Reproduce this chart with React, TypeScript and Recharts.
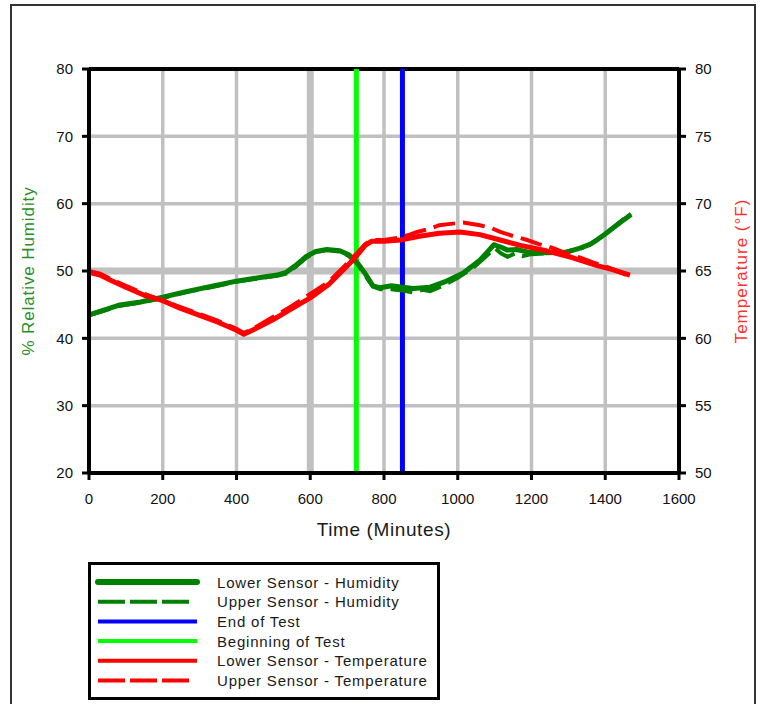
import React from 'react';
import { LineChart, Line, XAxis, YAxis, CartesianGrid, ReferenceLine } from 'recharts';

const FONT = '"Liberation Sans", Arial, Helvetica, sans-serif';

// Axis ticks
const timeTicks = [0, 200, 400, 600, 800, 1000, 1200, 1400, 1600];
const humidityTicks = [20, 30, 40, 50, 60, 70, 80];
const temperatureTicks = [50, 55, 60, 65, 70, 75, 80];

// Series: [time (minutes), value]
const lowerHumidity: [number, number][] = [
  [0, 43.5], [40, 44.2], [80, 44.9], [140, 45.4], [200, 46.1], [260, 46.9], [340, 47.8],
  [400, 48.5], [460, 49.0], [510, 49.4], [535, 49.8], [560, 50.8], [590, 52.2], [615, 52.9],
  [645, 53.2], [680, 53.0], [705, 52.4], [725, 51.4], [748, 49.7], [770, 47.8], [790, 47.5],
  [820, 47.8], [850, 47.6], [880, 47.4], [925, 47.6], [970, 48.5], [1015, 49.7], [1060, 51.6],
  [1080, 52.8], [1098, 53.9], [1115, 53.6], [1135, 53.1], [1160, 53.2], [1190, 52.8],
  [1240, 52.7], [1295, 52.8], [1332, 53.4], [1360, 54.0], [1380, 54.7], [1400, 55.5],
  [1421, 56.4], [1445, 57.4], [1470, 58.4],
];
const upperHumidity: [number, number][] = [
  [0, 43.4], [40, 44.1], [80, 44.8], [140, 45.3], [200, 46.0], [260, 46.8], [340, 47.7],
  [400, 48.4], [460, 48.9], [510, 49.3], [535, 49.6], [560, 50.6], [590, 52.0], [615, 52.8],
  [645, 53.1], [680, 52.9], [705, 52.2], [725, 51.2], [748, 49.4], [770, 47.7], [790, 47.3],
  [820, 47.3], [850, 47.1], [880, 46.8], [905, 47.2], [925, 47.0], [960, 47.8], [1000, 49.0],
  [1040, 50.4], [1065, 51.6], [1085, 52.6], [1100, 53.4], [1118, 52.6], [1135, 52.1],
  [1155, 52.6], [1175, 52.2], [1200, 52.5], [1240, 52.6], [1295, 52.9], [1332, 53.3],
  [1360, 54.0], [1390, 55.1], [1421, 56.4], [1445, 57.5], [1470, 58.5],
];
const lowerTemperature: [number, number][] = [
  [0, 64.9], [30, 64.7], [60, 64.3], [100, 63.8], [150, 63.2], [200, 62.8], [250, 62.2],
  [300, 61.7], [350, 61.2], [400, 60.6], [420, 60.3], [450, 60.7], [500, 61.4], [550, 62.2],
  [600, 63.0], [650, 64.0], [694, 65.2], [722, 66.0], [749, 66.9], [766, 67.2], [800, 67.2],
  [844, 67.3], [900, 67.6], [950, 67.8], [1006, 67.9], [1060, 67.7], [1115, 67.3],
  [1170, 66.9], [1240, 66.5], [1310, 66.0], [1378, 65.4], [1420, 65.1], [1467, 64.7],
];
const upperTemperature: [number, number][] = [
  [0, 65.0], [30, 64.8], [60, 64.4], [100, 63.9], [150, 63.3], [200, 62.8], [250, 62.3],
  [300, 61.8], [350, 61.3], [400, 60.7], [420, 60.4], [450, 60.8], [500, 61.6], [550, 62.4],
  [600, 63.3], [650, 64.2], [694, 65.4], [722, 66.2], [749, 67.0], [766, 67.3], [800, 67.3],
  [844, 67.5], [870, 67.7], [890, 67.9], [920, 68.1], [950, 68.4], [980, 68.5], [1015, 68.6],
  [1060, 68.4], [1090, 68.2], [1115, 67.9], [1150, 67.6], [1188, 67.3], [1220, 67.0],
  [1259, 66.7], [1295, 66.3], [1332, 66.0], [1370, 65.6], [1405, 65.3], [1440, 64.9],
  [1467, 64.6],
];
const beginningOfTest: [number, number][] = [[725, 20], [725, 80]];
const endOfTest: [number, number][] = [[850, 20], [850, 80]];

const legendItems = [
  { label: 'Lower Sensor - Humidity', color: '#008000', width: 6, dash: undefined },
  { label: 'Upper Sensor - Humidity', color: '#008000', width: 4, dash: '27 5' },
  { label: 'End of Test', color: '#0000ff', width: 4, dash: undefined },
  { label: 'Beginning of Test', color: '#00ff00', width: 4, dash: undefined },
  { label: 'Lower Sensor - Temperature', color: '#ff0000', width: 4, dash: undefined },
  { label: 'Upper Sensor - Temperature', color: '#ff0000', width: 4, dash: '27 5' },
];

const rows = (pairs: [number, number][]) => pairs.map(([t, v]) => ({ t, v }));

const GRID = '#c0c0c0';
const gridLine = (thickIndex: number) => (props: any) => {
  const { x1, y1, x2, y2, index, key } = props;
  return (
    <line
      key={key}
      x1={x1}
      y1={y1}
      x2={x2}
      y2={y2}
      stroke={GRID}
      strokeWidth={index === thickIndex ? 7 : 3.5}
    />
  );
};

const LeftLabel = (props: any) => {
  const vb = props.viewBox || {};
  const x = vb.x - 11;
  const y = vb.y + vb.height / 2;
  return (
    <text
      x={x}
      y={y}
      transform={`rotate(-90 ${x} ${y})`}
      textAnchor="middle"
      dominantBaseline="central"
      fill="#2a8f2a"
      fontSize={17}
      fontFamily={FONT}
      style={{ letterSpacing: '0.9px' }}
    >
      % Relative Humidity
    </text>
  );
};

const RightLabel = (props: any) => {
  const vb = props.viewBox || {};
  const x = vb.x + 62;
  const y = vb.y + vb.height / 2;
  return (
    <text
      x={x}
      y={y}
      transform={`rotate(-90 ${x} ${y})`}
      textAnchor="middle"
      dominantBaseline="central"
      fill="#ff3030"
      fontSize={17}
      fontFamily={FONT}
      style={{ letterSpacing: '1px' }}
    >
      Temperature (°F)
    </text>
  );
};

const tickStyle = { fill: '#111', fontSize: 15, fontFamily: FONT };
const axisLineStyle = { stroke: '#000', strokeWidth: 4 };
const tickLineStyle = { stroke: '#000', strokeWidth: 3 };

export default function App() {
  return (
    <div
      style={{
        position: 'absolute',
        left: 0,
        top: 0,
        width: 762,
        height: 704,
        overflow: 'hidden',
        background: '#fff',
        fontFamily: FONT,
      }}
    >
      <div
        style={{
          position: 'absolute',
          left: 10,
          top: 4,
          width: 746,
          height: 740,
          border: '2px solid #333',
          boxSizing: 'border-box',
        }}
      />
      <div style={{ position: 'absolute', left: 0, top: 0 }}>
        <LineChart width={762} height={704} margin={{ top: 69, right: 33, bottom: 201, left: 39 }}>
          <CartesianGrid
            yAxisId="rh"
            stroke={GRID}
            strokeWidth={3.5}
            horizontal={gridLine(3)}
            vertical={gridLine(3)}
          />
          <XAxis
            type="number"
            dataKey="t"
            domain={[0, 1600]}
            ticks={timeTicks}
            interval={0}
            height={30}
            tickSize={7}
            tickMargin={13}
            axisLine={axisLineStyle}
            tickLine={tickLineStyle}
            tick={tickStyle}
            label={{
              value: 'Time (Minutes)',
              position: 'bottom',
              offset: 20,
              fill: '#1a1a1a',
              fontSize: 19,
              fontFamily: FONT,
              letterSpacing: 0.6,
            }}
          />
          <YAxis
            yAxisId="rh"
            orientation="left"
            type="number"
            domain={[20, 80]}
            ticks={humidityTicks}
            interval={0}
            width={50}
            tickSize={7}
            tickMargin={9}
            axisLine={axisLineStyle}
            tickLine={tickLineStyle}
            tick={tickStyle}
            label={<LeftLabel />}
          />
          <YAxis
            yAxisId="temp"
            orientation="right"
            type="number"
            domain={[50, 80]}
            ticks={temperatureTicks}
            interval={0}
            width={50}
            tickSize={7}
            tickMargin={9}
            axisLine={axisLineStyle}
            tickLine={tickLineStyle}
            tick={tickStyle}
            label={<RightLabel />}
          />
          <ReferenceLine yAxisId="rh" y={80} stroke="#000" strokeWidth={4} />
          <Line
            data={rows(endOfTest)}
            dataKey="v"
            yAxisId="rh"
            stroke="#0000ff"
            strokeWidth={5}
            dot={false}
            activeDot={false}
            isAnimationActive={false}
          />
          <Line
            data={rows(beginningOfTest)}
            dataKey="v"
            yAxisId="rh"
            stroke="#00ff00"
            strokeWidth={5}
            dot={false}
            activeDot={false}
            isAnimationActive={false}
          />
          <Line
            data={rows(upperHumidity)}
            dataKey="v"
            yAxisId="rh"
            stroke="#008000"
            strokeWidth={4}
            strokeDasharray="22 8"
            dot={false}
            activeDot={false}
            isAnimationActive={false}
          />
          <Line
            data={rows(lowerHumidity)}
            dataKey="v"
            yAxisId="rh"
            stroke="#008000"
            strokeWidth={5}
            strokeLinejoin="round"
            dot={false}
            activeDot={false}
            isAnimationActive={false}
          />
          <Line
            data={rows(lowerTemperature)}
            dataKey="v"
            yAxisId="temp"
            stroke="#ff0000"
            strokeWidth={5}
            strokeLinejoin="round"
            dot={false}
            activeDot={false}
            isAnimationActive={false}
          />
          <Line
            data={rows(upperTemperature)}
            dataKey="v"
            yAxisId="temp"
            stroke="#ff0000"
            strokeWidth={4}
            strokeDasharray="22 8"
            dot={false}
            activeDot={false}
            isAnimationActive={false}
          />
        </LineChart>
      </div>
      <svg
        width={352}
        height={138}
        style={{ position: 'absolute', left: 88, top: 562 }}
      >
        <rect x={1.5} y={1.5} width={349} height={135} fill="#fff" stroke="#000" strokeWidth={3} />
        {legendItems.map((item, i) => {
          const y = 20 + i * 19.7;
          return (
            <g key={item.label}>
              <line
                x1={10}
                y1={y}
                x2={item.dash ? 101 : 109}
                y2={y}
                stroke={item.color}
                strokeWidth={item.width}
                strokeDasharray={item.dash}
                strokeLinecap={i === 0 ? 'round' : 'butt'}
              />
              <text
                x={129}
                y={y}
                dominantBaseline="central"
                fill="#1a1a1a"
                fontSize={15}
                fontFamily={FONT}
                style={{ letterSpacing: '0.8px' }}
              >
                {item.label}
              </text>
            </g>
          );
        })}
      </svg>
    </div>
  );
}
